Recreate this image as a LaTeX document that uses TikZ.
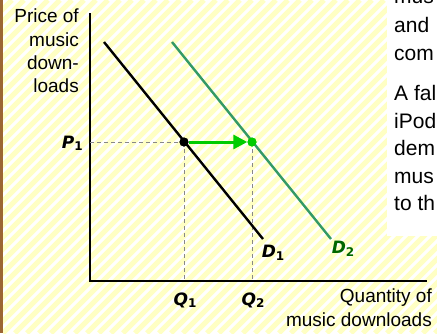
\documentclass[tikz,border=0pt]{standalone}
\usepackage{fontspec}
\setmainfont{Liberation Sans}
\newfontfamily\lblfont{DejaVu Sans}
\usetikzlibrary{arrows.meta}
\definecolor{stripe}{HTML}{FFFFC4}
\definecolor{brownbar}{HTML}{9C6633}
\definecolor{dtwo}{HTML}{339966}
\definecolor{arrowgreen}{HTML}{00CC00}
\definecolor{dtwolabel}{HTML}{006600}
\definecolor{dashgray}{HTML}{888888}
\newcommand\econlbl[2]{{\lblfont\fontsize{17}{20}\selectfont\bfseries\itshape #1}{\lblfont\fontsize{12}{12}\selectfont\bfseries\upshape\raisebox{-0.4ex}{#2}}}
\begin{document}
\begin{tikzpicture}[x=1pt,y=-1pt,
  axis/.style={line width=1.2pt,black},
  curve/.style={line width=2.4pt},
  guide/.style={dashgray,line width=0.9pt,dash pattern=on 4pt off 3pt},
  axtext/.style={anchor=base east,inner sep=0pt,font=\fontsize{19}{23}\selectfont},
  boxtext/.style={anchor=base west,inner sep=0pt,font=\fontsize{21}{25}\selectfont},
  eqlbl/.style={inner sep=0pt},
  dot/.style={circle,inner sep=0pt,minimum size=9pt}]
\useasboundingbox (0,0) rectangle (437,333);
\fill[white] (0,0) rectangle (437,333);
\begin{scope}
  \clip (0,0) rectangle (437,333);
  \foreach \k in {0,12,...,780} \draw[stripe,line width=5pt] (\k,0) -- (\k-333,333);
\end{scope}
\fill[brownbar] (0,0) rectangle (3,333);
% text box at right
\fill[white] (387,0) rectangle (437,236);
\begin{scope}
  \clip (387,0) rectangle (437,236);
  \node[boxtext] (t1) at (394,3) {mus};
  \node[boxtext] (t2) at (394,32) {and};
  \node[boxtext] (t3) at (394,60) {com};
  \node[boxtext] (t4) at (394,100) {A fal};
  \node[boxtext] (t5) at (394,128) {iPod};
  \node[boxtext] (t6) at (394,155) {dem};
  \node[boxtext] (t7) at (394,183) {mus};
  \node[boxtext] (t8) at (394,210) {to th};
\end{scope}
% axes
\coordinate (ytop) at (90,13);
\coordinate (origin) at (90,281);
\coordinate (xend) at (427,281);
\draw[axis] (ytop) -- (origin) -- (xend);
% axis labels
\node[axtext] (yl1) at (79,22) {Price of};
\node[axtext] (yl2) at (79,46) {music};
\node[axtext] (yl3) at (79,69) {down-};
\node[axtext] (yl4) at (79,92) {loads};
\node[axtext] (xl1) at (432,302) {Quantity of};
\node[axtext] (xl2) at (432,326) {music downloads};
% points
\node[dot,fill=black] (e1) at (184,142) {};
\node[dot,fill=arrowgreen] (e2) at (252,142) {};
\coordinate (p1axis) at (90,142);
\coordinate (q1axis) at (184,281);
\coordinate (q2axis) at (252,281);
\draw[guide] (p1axis) -- (e1.center);
\draw[guide] (e1.center) -- (q1axis);
\draw[guide] (e2.center) -- (q2axis);
% demand curves
\coordinate (d1top) at (104,42);
\coordinate (d1bot) at (263,239);
\coordinate (d2top) at (172,42);
\coordinate (d2bot) at (331,239);
\draw[curve,black] (d1top) -- (d1bot);
\draw[curve,dtwo] (d2top) -- (d2bot);
% redraw dots on top
\node[dot,fill=black] at (e1) {};
\node[dot,fill=arrowgreen] at (e2) {};
\draw[arrowgreen,line width=3pt,-{Triangle[length=14pt,width=14pt]}] (e1) -- (e2);
% labels
\node[eqlbl,anchor=base east] (p1) at (83,148) {\econlbl{P}{1}};
\node[eqlbl] (q1) at (185,300) {\econlbl{Q}{1}};
\node[eqlbl] (q2) at (253,300) {\econlbl{Q}{2}};
\node[eqlbl] (d1) at (273,253) {\econlbl{D}{1}};
\node[eqlbl,text=dtwolabel] (d2) at (343,249) {\econlbl{D}{2}};
\end{tikzpicture}
\end{document}
